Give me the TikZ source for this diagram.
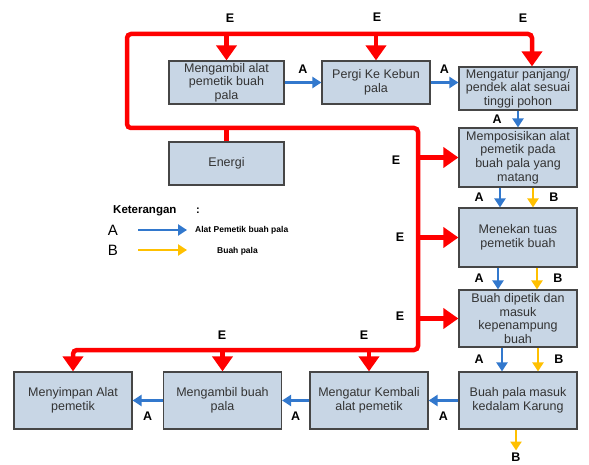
\documentclass[tikz,border=0pt]{standalone}
\usepackage{fontspec}
\setmainfont{Liberation Sans}
\usetikzlibrary{arrows.meta}
\definecolor{boxfill}{RGB}{200,214,229}
\definecolor{boxline}{RGB}{70,70,70}
\definecolor{eRed}{RGB}{255,0,0}
\definecolor{aBlue}{RGB}{50,120,205}
\definecolor{bGold}{RGB}{255,192,0}

\begin{document}
\begin{tikzpicture}[x=1pt, y=-1pt,
  proc/.style={draw=boxline, fill=boxfill, line width=1.2pt, align=center,
    text=black!80, inner sep=1pt, minimum width=118pt, minimum height=57pt,
    font=\fontsize{12.5}{13.6}\selectfont},
  eline/.style={draw=eRed, line width=4.5pt},
  etip/.style={-{Triangle[width=20pt,length=15pt]}},
  aline/.style={draw=aBlue, line width=2.8pt, -{Triangle[width=11pt,length=9pt]}},
  bline/.style={draw=bGold, line width=2.8pt, -{Triangle[width=11pt,length=9pt]}},
  lab/.style={font=\bfseries\fontsize{12.5}{14}\selectfont, inner sep=1pt}]
  \useasboundingbox (0,0) rectangle (589,465);

  % process boxes
  \node[proc, minimum width=115pt, minimum height=43pt] (am) at (226.5,82.5) {Mengambil alat\\pemetik buah\\pala};
  \node[proc, minimum width=108pt, minimum height=43pt] (kb) at (376,82.5) {Pergi Ke Kebun\\pala};
  \node[proc, minimum height=43pt] (at) at (518,88.5) {Mengatur panjang/\\pendek alat sesuai\\tinggi pohon};
  \node[proc, minimum height=59pt] (ps) at (518,157.5) {Memposisikan alat\\pemetik pada\\buah pala yang\\matang};
  \node[proc, minimum height=59pt] (tk) at (518,237.5) {Menekan tuas\\pemetik buah};
  \node[proc] (pt) at (518,318.5) {Buah dipetik dan\\masuk\\kepenampung\\buah};
  \node[proc] (kr) at (518,400.5) {Buah pala masuk\\kedalam Karung};
  \node[proc] (kbl) at (369,400.5) {Mengatur Kembali\\alat pemetik};
  \node[proc] (ab) at (222.5,400.5) {Mengambil buah\\pala};
  \node[proc] (sp) at (73,400.5) {Menyimpan Alat\\pemetik};
  \node[proc, minimum width=115pt, minimum height=43pt] (en) at (226.5,163.5) {Energi};

  % energy bus
  \coordinate (c1) at (127,34);
  \coordinate (c2) at (532,34);
  \coordinate (c3) at (127,128);
  \coordinate (c4) at (418,128);
  \coordinate (c5) at (418,350);
  \draw[eline, {Triangle[width=20pt,length=15pt]}-{Triangle[width=20pt,length=15pt]}, rounded corners=4pt]
    (sp.north) -- (sp.north |- c5) -- (c5) -- (c4) -- (c3) -- (c1) -- (c2) -- (c2 |- at.north);
  \draw[eline] (en.north) -- (en.north |- c3);
  \draw[eline, etip] (c1 -| am.north) -- (am.north);
  \draw[eline, etip] (c1 -| kb.north) -- (kb.north);
  \draw[eline, etip] (c4 |- ps.west) -- (ps.west);
  \draw[eline, etip] (c4 |- tk.west) -- (tk.west);
  \draw[eline, etip] (c4 |- pt.west) -- (pt.west);
  \draw[eline, etip] (c5 -| ab.north) -- (ab.north);
  \draw[eline, etip] (c5 -| kbl.north) -- (kbl.north);

  \node[lab] (e1) at (230,18) {E};
  \node[lab] (e2) at (377,17) {E};
  \node[lab] (e3) at (523,18) {E};
  \node[lab] (e4) at (396,160) {E};
  \node[lab] (e5) at (400,237) {E};
  \node[lab] (e6) at (400,316) {E};
  \node[lab] (e7) at (222,335) {E};
  \node[lab] (e8) at (364,335) {E};

  % flow of the tool (A) and the fruit (B)
  \draw[aline] (am) -- node[lab, above=7pt] {A} (kb);
  \draw[aline] (kb) -- node[lab, above=7pt] {A} (kb -| at.west);
  \draw[aline] (at) -- node[lab, left=14pt] {A} (ps);
  \draw[aline] ([xshift=-18pt]ps.south) -- node[lab, left=14pt] {A} ([xshift=-18pt]tk.north);
  \draw[bline] ([xshift=15pt]ps.south) -- node[lab, right=14pt] {B} ([xshift=15pt]tk.north);
  \draw[aline] ([xshift=-20pt]tk.south) -- node[lab, left=12pt] {A} ([xshift=-20pt]pt.north);
  \draw[bline] ([xshift=19pt]tk.south) -- node[lab, right=14pt] {B} ([xshift=19pt]pt.north);
  \draw[aline] ([xshift=-16pt]pt.south) -- node[lab, left=16pt] {A} ([xshift=-16pt]kr.north);
  \draw[bline] ([xshift=20pt]pt.south) -- node[lab, right=14pt] {B} ([xshift=20pt]kr.north);
  \node[lab] (bx) at (516,457) {B};
  \draw[bline, shorten >=1pt] ([xshift=-2pt]kr.south) -- (bx.north);
  \draw[aline] (kr) -- node[lab, below=9pt] {A} (kbl);
  \draw[aline] (kbl) -- node[lab, below=9pt] {A} (ab);
  \draw[aline] (ab) -- node[lab, below=9pt] {A} (sp);

  % legend
  \node[font=\bfseries\fontsize{11.5}{13}\selectfont, anchor=west, inner sep=0pt] (ket) at (113,211) {Keterangan};
  \node[font=\bfseries\fontsize{11}{13}\selectfont] (kc) at (198,211) {:};
  \node[font=\fontsize{15}{16}\selectfont, inner sep=0pt] (la) at (113,230) {A};
  \node[font=\fontsize{15}{16}\selectfont, inner sep=0pt] (lb) at (113,250) {B};
  \node[font=\bfseries\fontsize{8.5}{10}\selectfont, anchor=west, inner sep=0pt] (ta) at (195,230) {Alat Pemetik buah pala};
  \node[font=\bfseries\fontsize{8.5}{10}\selectfont, inner sep=0pt] (tb) at (237.5,251) {Buah pala};
  \coordinate (ka) at (138,230);
  \coordinate (kb2) at (138,250);
  \draw[aline] (ka) -- (ka -| 187,0);
  \draw[bline] (kb2) -- (kb2 -| 187,0);
\end{tikzpicture}
\end{document}
